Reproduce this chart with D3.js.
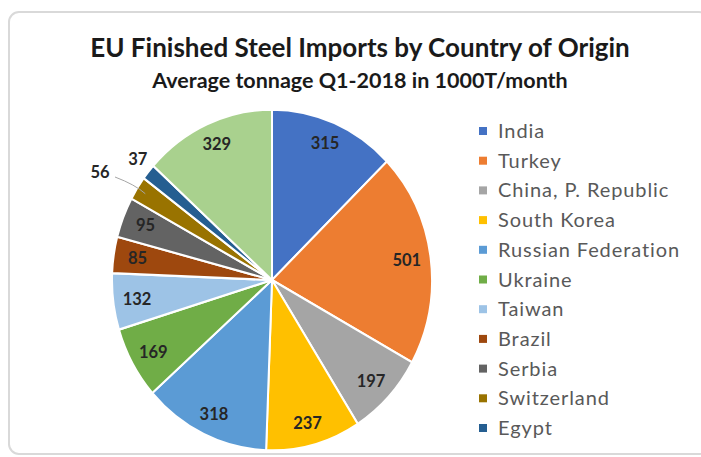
<!DOCTYPE html>
<html>
<head>
<meta charset="utf-8">
<script src="https://cdn.jsdelivr.net/npm/d3@7"></script>
<style>
  body { margin: 0; background: #fff; }
  svg { display: block; }
</style>
</head>
<body>
<div id="chart"></div>
<script>
// data
const countries = ['India', 'Turkey', 'China, P. Republic', 'South Korea', 'Russian Federation',
  'Ukraine', 'Taiwan', 'Brazil', 'Serbia', 'Switzerland', 'Egypt', 'Other']
const tonnage = [315, 501, 197, 237, 318, 169, 132, 85, 95, 56, 37, 329]
const colors = ['#4472C4', '#ED7D31', '#A5A5A5', '#FFC000', '#5B9BD5', '#70AD47',
  '#9DC3E6', '#9E480E', '#636363', '#997300', '#255E91', '#A9D18E']
const legendCount = 11 // the last slice has no legend entry in the original

const width = 701
const height = 457
const cx = 272
const cy = 280
const radius = 160
const stretchY = 1.065 // pie looks a bit taller than wide

const svg = d3.select('#chart').append('svg').attr('width', width).attr('height', height)

// chart frame
svg.append('rect')
  .attr('x', 9).attr('y', 12).attr('width', 700).attr('height', 442)
  .attr('rx', 10).attr('ry', 10)
  .attr('fill', '#fff').attr('stroke', '#d9d9d9').attr('stroke-width', 2)

// titles
svg.append('text')
  .attr('x', 360).attr('y', 57)
  .attr('text-anchor', 'middle')
  .attr('style', 'font-family: Lato, sans-serif; font-weight: 700; font-size: 26px; fill: #1a1a1a;')
  .text('EU Finished Steel Imports by Country of Origin')
svg.append('text')
  .attr('x', 360).attr('y', 88)
  .attr('text-anchor', 'middle')
  .attr('style', 'font-family: Lato, sans-serif; font-weight: 700; font-size: 21.5px; fill: #1a1a1a;')
  .text('Average tonnage Q1-2018 in 1000T/month')

const data = tonnage.map((v, i) => ({ name: countries[i], value: v, color: colors[i] }))
const pie = d3.pie().sort(null).value(d => d.value)
const arcs = pie(data)
const arc = d3.arc().innerRadius(0).outerRadius(radius)

const pieG = svg.append('g')
  .attr('transform', 'translate(' + cx + ',' + cy + ') scale(1,' + stretchY + ')')
pieG.selectAll('path').data(arcs).enter().append('path')
  .attr('d', arc)
  .attr('fill', d => d.data.color)
  .attr('stroke', '#fff')
  .attr('stroke-width', 2)

// point on the (stretched) pie for a given angle and radius
function pt (angle, rx, ry) {
  return [cx + Math.sin(angle) * rx, cy - Math.cos(angle) * ry * stretchY]
}

const labelStyle = 'font-family: Lato, sans-serif; font-weight: 700; font-size: 16.5px; fill: #262626;'
arcs.forEach((a, i) => {
  const mid = (a.startAngle + a.endAngle) / 2
  let p
  if (a.data.value < 60) {
    // small slices get their label outside
    if (a.data.value === 56) {
      p = [100, 172]
      const s = pt(mid, radius * 0.94, radius * 0.94)
      svg.append('path')
        .attr('d', 'M' + s[0] + ',' + s[1] + ' Q' + (s[0] - 10) + ',' + (s[1] - 9) + ' ' + (p[0] + 15) + ',' + (p[1] + 5))
        .attr('fill', 'none').attr('stroke', '#a6a6a6').attr('stroke-width', 1)
    } else {
      p = pt(mid, radius * 1.15, radius * 1.15)
      p = [p[0] + 8, p[1] + 4]
    }
  } else {
    p = pt(mid, radius * 0.85, radius * 0.87)
  }
  svg.append('text')
    .attr('x', p[0]).attr('y', p[1])
    .attr('dy', '0.35em')
    .attr('text-anchor', 'middle')
    .attr('style', labelStyle)
    .text(a.data.value)
})

// legend
const legend = svg.append('g').attr('transform', 'translate(479,131)')
const rows = legend.selectAll('g').data(data.slice(0, legendCount)).enter().append('g')
  .attr('transform', (d, i) => 'translate(0,' + i * 29.7 + ')')
rows.append('rect')
  .attr('x', 0).attr('y', -4).attr('width', 8).attr('height', 8)
  .attr('fill', d => d.color)
rows.append('text')
  .attr('x', 19).attr('dy', '0.35em')
  .attr('style', 'font-family: Lato, sans-serif; font-size: 20px; letter-spacing: 0.9px; fill: #595959;')
  .text(d => d.name)
</script>
</body>
</html>
